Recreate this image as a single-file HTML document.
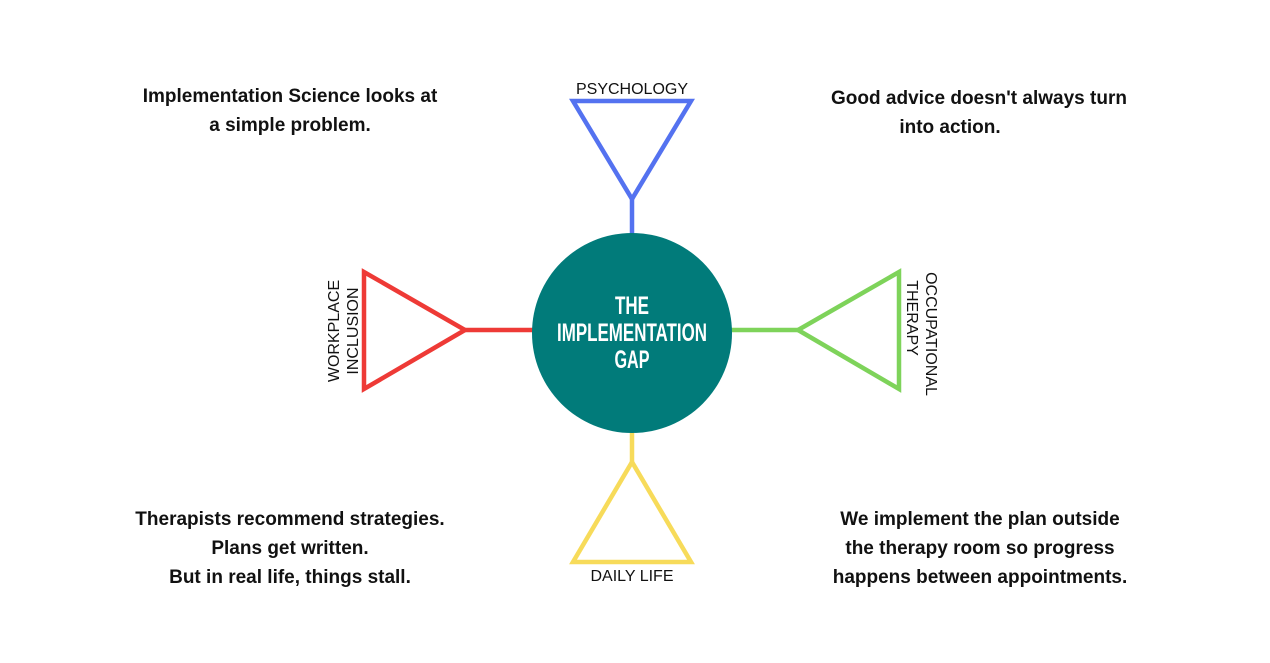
<!DOCTYPE html>
<html><head><meta charset="utf-8"><style>
body{margin:0;background:#fff;}
svg{display:block}
.t{font-family:"Liberation Sans",sans-serif;font-weight:bold;font-size:19px;fill:#111;text-anchor:middle}
.l{font-family:"Liberation Sans",sans-serif;font-size:16px;fill:#111;text-anchor:middle}
.c{font-family:"Liberation Sans Narrow","Liberation Sans",sans-serif;font-weight:bold;font-size:25px;fill:#fff;text-anchor:middle}
</style></head><body>
<svg width="1270" height="663" viewBox="0 0 1270 663">
<g fill="none" stroke-width="4.5" stroke-linejoin="miter">
<polygon points="573,101 691,101 632,199" stroke="#5472f0"/>
<line x1="632" y1="199" x2="632" y2="236" stroke="#5472f0"/>
<polygon points="573,562 691,562 632,462" stroke="#f7db5a"/>
<line x1="632" y1="430" x2="632" y2="462" stroke="#f7db5a"/>
<polygon points="364,272 364,389 465,330" stroke="#ee3a36"/>
<line x1="465" y1="330" x2="535" y2="330" stroke="#ee3a36"/>
<polygon points="899,272 899,389 798,330" stroke="#7ed35a"/>
<line x1="729" y1="330" x2="798" y2="330" stroke="#7ed35a"/>
</g>
<circle cx="632" cy="333" r="100" fill="#017b7a"/>
<text class="c" x="632" y="314" textLength="34" lengthAdjust="spacingAndGlyphs">THE</text>
<text class="c" x="632" y="341" textLength="150" lengthAdjust="spacingAndGlyphs">IMPLEMENTATION</text>
<text class="c" x="632" y="368" textLength="35" lengthAdjust="spacingAndGlyphs">GAP</text>
<text class="l" x="632" y="94">PSYCHOLOGY</text>
<text class="l" x="632" y="581">DAILY LIFE</text>
<text class="l" transform="translate(339,331) rotate(-90)">WORKPLACE</text>
<text class="l" transform="translate(358,331) rotate(-90)">INCLUSION</text>
<text class="l" transform="translate(926,334) rotate(90)">OCCUPATIONAL</text>
<text class="l" transform="translate(907,318) rotate(90)">THERAPY</text>
<text class="t" x="290" y="102">Implementation Science looks at</text>
<text class="t" x="290" y="131">a simple problem.</text>
<text class="t" x="979" y="104">Good advice doesn't always turn</text>
<text class="t" x="950" y="133">into action.</text>
<text class="t" x="290" y="525">Therapists recommend strategies.</text>
<text class="t" x="290" y="554">Plans get written.</text>
<text class="t" x="290" y="583">But in real life, things stall.</text>
<text class="t" x="980" y="525">We implement the plan outside</text>
<text class="t" x="980" y="554">the therapy room so progress</text>
<text class="t" x="980" y="583">happens between appointments.</text>
</svg>
</body></html>
